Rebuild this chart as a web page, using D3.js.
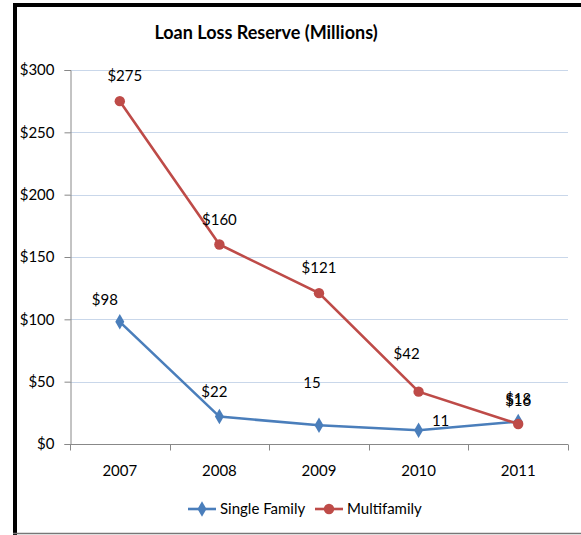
<!DOCTYPE html>
<html lang="en">
<head>
<meta charset="UTF-8">
<title>Loan Loss Reserve</title>
<style>
  body { margin: 0; background: #fff; }
  svg text { font-family: Lato, "Open Sans", sans-serif; fill: #000; }
</style>
</head>
<body>
<svg id="chart" width="581" height="535"></svg>
<script src="https://cdn.jsdelivr.net/npm/d3@7"></script>
<script>
const years = ["2007", "2008", "2009", "2010", "2011"];
const singleFamily = [98, 22, 15, 11, 18];
const multifamily = [275, 160, 121, 42, 16];
const singleLabels = ["$98", "$22", "15", "11", "$18"];
const multiLabels = ["$275", "$160", "$121", "$42", "$16"];
const yTicks = [0, 50, 100, 150, 200, 250, 300];

const width = 581, height = 535;
const margin = {top: 70, right: 13, bottom: 91, left: 70};

const svg = d3.select("#chart");

// frame
svg.append("path")
   .attr("d", "M15,535 V5 H581")
   .attr("fill", "none").attr("stroke", "#000").attr("stroke-width", 4);
svg.append("line")
   .attr("x1", 13).attr("x2", 581).attr("y1", 533.5).attr("y2", 533.5)
   .attr("stroke", "#777").attr("stroke-width", 1.5);

svg.append("text")
   .attr("x", 266).attr("y", 39)
   .attr("text-anchor", "middle")
   .style("font-size", "18px").style("font-weight", "bold")
   .text("Loan Loss Reserve (Millions)");

const x = d3.scaleBand().domain(years).range([margin.left, width - margin.right]);
const y = d3.scaleLinear().domain([0, 300]).range([height - margin.bottom, margin.top]);

// gridlines
svg.append("g")
   .selectAll("line").data(yTicks.filter(d => d > 0)).join("line")
   .attr("x1", margin.left).attr("x2", width - margin.right)
   .attr("y1", d => Math.round(y(d)) + 0.5).attr("y2", d => Math.round(y(d)) + 0.5)
   .attr("stroke", "#c9d7ea").attr("stroke-width", 1);

// y axis
const yAxis = svg.append("g")
   .attr("transform", `translate(${margin.left + 0.5},0)`)
   .call(d3.axisLeft(y).tickValues(yTicks).tickFormat(d => "$" + d).tickSize(6).tickPadding(10));
yAxis.selectAll("text").style("font-size", "15px");
yAxis.select(".domain").attr("stroke", "#888");
yAxis.selectAll(".tick line").attr("stroke", "#888");

// x axis with category boundary ticks
const xg = svg.append("g").attr("transform", `translate(0,${Math.round(y(0)) + 0.5})`);
xg.append("line")
  .attr("x1", margin.left).attr("x2", width - margin.right)
  .attr("stroke", "#888");
const bounds = years.map(d => x(d)).concat([x(years[years.length - 1]) + x.bandwidth()]);
xg.selectAll(".bt").data(bounds).join("line")
  .attr("x1", d => Math.round(d) + 0.5).attr("x2", d => Math.round(d) + 0.5)
  .attr("y1", 0).attr("y2", 6).attr("stroke", "#888");
xg.selectAll(".xl").data(years).join("text")
  .attr("x", d => x(d) + x.bandwidth() / 2).attr("y", 31)
  .attr("text-anchor", "middle").style("font-size", "15px")
  .text(d => d);

const cx = d => x(d) + x.bandwidth() / 2;
const line = d3.line().x(d => cx(d.year)).y(d => y(d.v));

const series = [
  {name: "Single Family", values: singleFamily, labels: singleLabels, color: "#4a7ebb", shape: d3.symbolDiamond,
   offsets: [[-15, -17], [-5, -20], [-7, -37], [22, -4], [0, -18]]},
  {name: "Multifamily", values: multifamily, labels: multiLabels, color: "#be4b48", shape: d3.symbolCircle,
   offsets: [[5, -20], [0, -20], [0, -20], [-12, -33], [0, -18]]}
];

series.forEach(s => {
  const pts = years.map((yr, i) => ({year: yr, v: s.values[i], label: s.labels[i], off: s.offsets[i]}));
  svg.append("path").datum(pts)
     .attr("d", line).attr("fill", "none")
     .attr("stroke", s.color).attr("stroke-width", 2.6);
  svg.append("g").selectAll("path").data(pts).join("path")
     .attr("d", d3.symbol().type(s.shape).size(s.shape === d3.symbolCircle ? 85 : 70))
     .attr("transform", d => `translate(${cx(d.year)},${y(d.v)})`)
     .attr("fill", s.color);
  svg.append("g").selectAll("text").data(pts).join("text")
     .attr("x", d => cx(d.year) + d.off[0]).attr("y", d => y(d.v) + d.off[1])
     .attr("text-anchor", "middle").style("font-size", "15px")
     .text(d => d.label);
});

// legend
const legend = svg.append("g").attr("transform", "translate(0,509)");
const legendX = [188, 315];
series.forEach((s, i) => {
  const g = legend.append("g").attr("transform", `translate(${legendX[i]},0)`);
  g.append("line").attr("x1", 0).attr("x2", 28).attr("stroke", s.color).attr("stroke-width", 2.6);
  g.append("path").attr("d", d3.symbol().type(s.shape).size(s.shape === d3.symbolCircle ? 85 : 70))
   .attr("transform", "translate(14,0)").attr("fill", s.color);
  g.append("text").attr("x", 32).attr("y", 5).style("font-size", "15px").text(s.name);
});
</script>
</body>
</html>
